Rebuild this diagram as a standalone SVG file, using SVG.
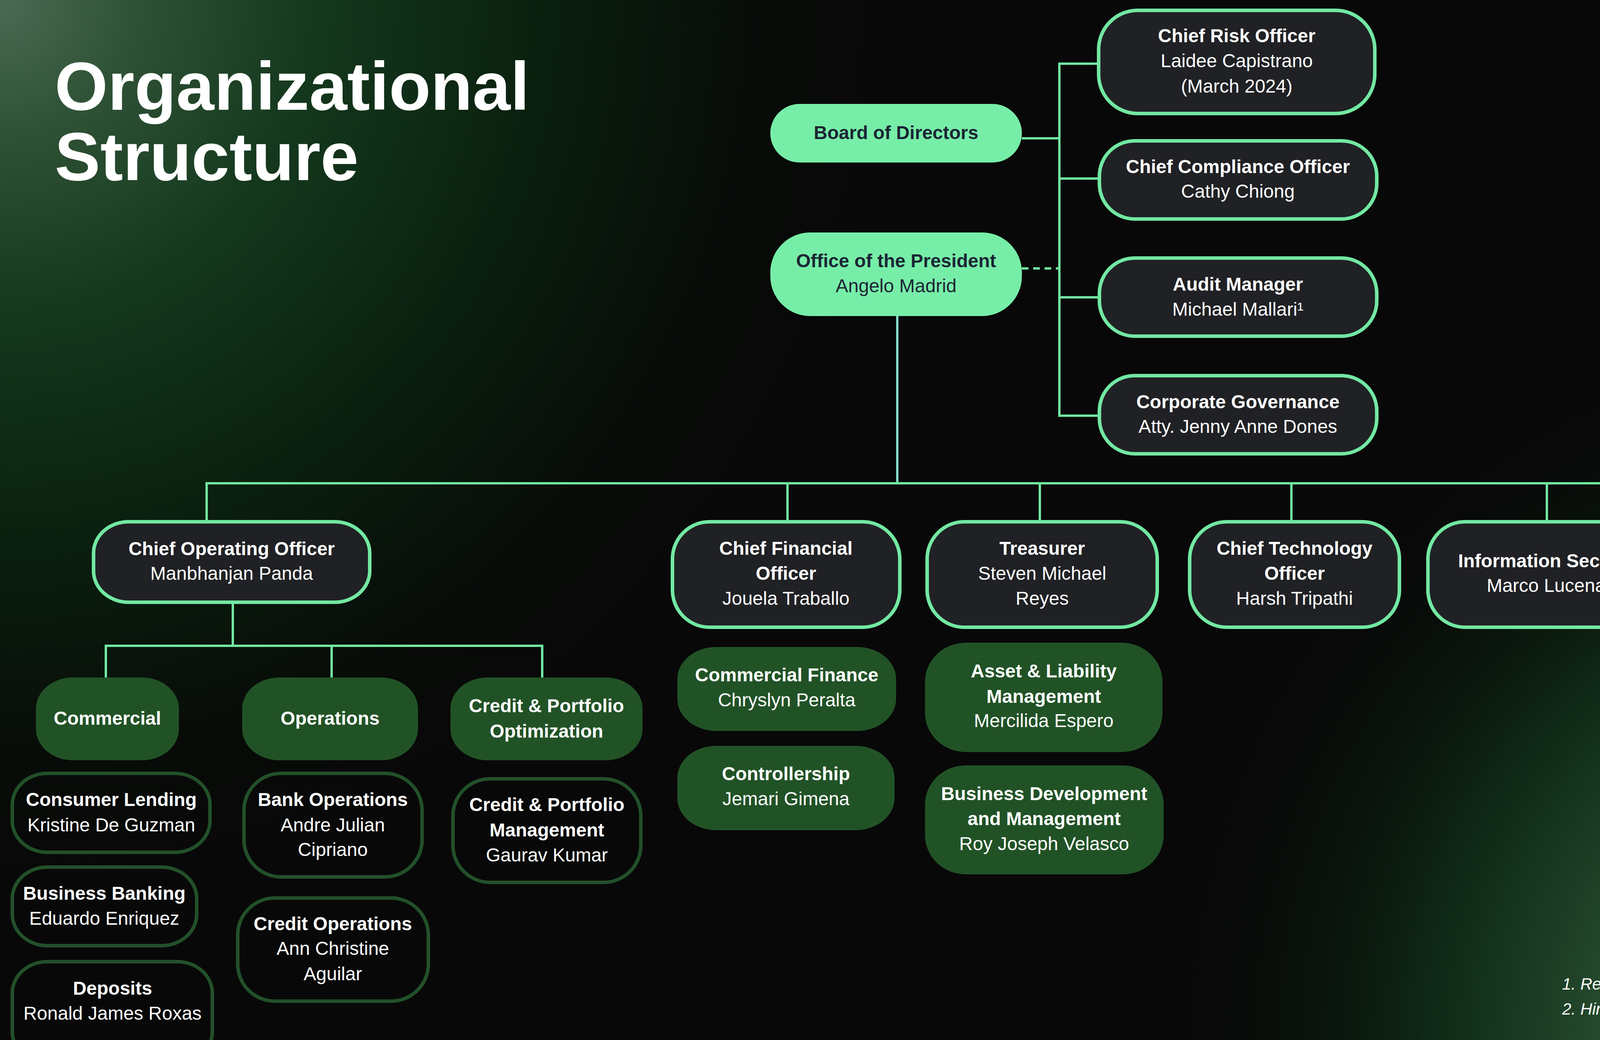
<svg xmlns="http://www.w3.org/2000/svg" width="4840" height="2662" viewBox="0 0 4840 2662">
<defs>
<radialGradient id="gTL" gradientUnits="userSpaceOnUse" cx="0" cy="0" r="2300">
<stop offset="0" stop-color="#4a6b53"/>
<stop offset="0.15" stop-color="#2f5236"/>
<stop offset="0.35" stop-color="#14381d"/>
<stop offset="0.6" stop-color="#0a200f"/>
<stop offset="0.85" stop-color="#080b08"/>
<stop offset="1" stop-color="#080808"/>
</radialGradient>
<radialGradient id="gBR" gradientUnits="userSpaceOnUse" cx="4840" cy="2662" r="1900">
<stop offset="0" stop-color="#5a7b68" stop-opacity="1"/>
<stop offset="0.2" stop-color="#42644c" stop-opacity="1"/>
<stop offset="0.4" stop-color="#24482c" stop-opacity="1"/>
<stop offset="0.6" stop-color="#11301a" stop-opacity="0.9"/>
<stop offset="0.8" stop-color="#0a1a0d" stop-opacity="0.5"/>
<stop offset="1" stop-color="#080808" stop-opacity="0"/>
</radialGradient>
</defs>
<style>
.t{font-family:"Liberation Sans",Arial,sans-serif;font-size:48px;text-anchor:middle;fill:#ffffff}
.b{font-weight:700}
.dk{fill:#1b2535}
.box{fill:#202124;stroke:#72e8a2;stroke-width:9}
.lg{fill:#77eea8}
.gf{fill:#215226}
.go{fill:none;stroke:#22502a;stroke-width:9}
.ln{stroke:#72e8a2;stroke-width:6;fill:none}
.title{font-family:"Liberation Sans",Arial,sans-serif;font-size:175px;font-weight:700;fill:#ffffff}
.fn{font-family:"Liberation Sans",Arial,sans-serif;font-size:42px;font-style:italic;fill:#ffffff}
</style>
<rect x="0" y="0" width="4840" height="2662" fill="url(#gTL)"/>
<rect x="0" y="0" width="4840" height="2662" fill="url(#gBR)"/>

<g id="title">
<text class="title" x="140" y="281">Organizational</text>
<text class="title" x="140" y="461">Structure</text>
</g>

<g id="connectors">
<line class="ln" x1="2616" y1="354" x2="2712" y2="354"/>
<line class="ln" x1="2616" y1="687" x2="2712" y2="687" stroke-dasharray="17 12"/>
<line class="ln" x1="2712" y1="160" x2="2712" y2="1067"/>
<line class="ln" x1="2709" y1="163" x2="2812" y2="163"/>
<line class="ln" x1="2712" y1="457" x2="2814" y2="457"/>
<line class="ln" x1="2712" y1="761" x2="2814" y2="761"/>
<line class="ln" x1="2709" y1="1064" x2="2814" y2="1064"/>
<line class="ln" x1="2297" y1="809" x2="2297" y2="1237" style="stroke:#84d8c6"/>
<line class="ln" x1="526" y1="1237" x2="4599" y2="1237"/>
<line class="ln" x1="529" y1="1237" x2="529" y2="1334"/>
<line class="ln" x1="2016" y1="1237" x2="2016" y2="1334"/>
<line class="ln" x1="2662" y1="1237" x2="2662" y2="1334"/>
<line class="ln" x1="3306" y1="1237" x2="3306" y2="1334"/>
<line class="ln" x1="3960" y1="1237" x2="3960" y2="1334"/>
<line class="ln" x1="4593" y1="1237" x2="4593" y2="1334"/>
<line class="ln" x1="596" y1="1544" x2="596" y2="1653"/>
<line class="ln" x1="268" y1="1653" x2="1391" y2="1653"/>
<line class="ln" x1="271" y1="1653" x2="271" y2="1734"/>
<line class="ln" x1="849" y1="1653" x2="849" y2="1734"/>
<line class="ln" x1="1388" y1="1653" x2="1388" y2="1734"/>
</g>

<g id="board">
<rect class="lg" x="1972" y="266" width="644" height="150" rx="75"/>
<text class="t b dk" x="2294" y="356">Board of Directors</text>
</g>
<g id="president">
<rect class="lg" x="1972" y="595" width="644" height="214" rx="102"/>
<text class="t b dk" x="2294" y="684">Office of the President</text>
<text class="t dk" x="2294" y="748">Angelo Madrid</text>
</g>

<g id="cro">
<rect class="box" x="2812.5" y="26.5" width="707" height="264" rx="100"/>
<text class="t b" x="3166" y="108">Chief Risk Officer</text>
<text class="t" x="3166" y="172">Laidee Capistrano</text>
<text class="t" x="3166" y="237">(March 2024)</text>
</g>
<g id="cco">
<rect class="box" x="2814.5" y="360.5" width="710" height="200" rx="90"/>
<text class="t b" x="3169" y="443">Chief Compliance Officer</text>
<text class="t" x="3169" y="506">Cathy Chiong</text>
</g>
<g id="audit">
<rect class="box" x="2814.5" y="660.5" width="710" height="200" rx="90"/>
<text class="t b" x="3169" y="744">Audit Manager</text>
<text class="t" x="3169" y="808">Michael Mallari¹</text>
</g>
<g id="corpgov">
<rect class="box" x="2814.5" y="961.5" width="710" height="200" rx="90"/>
<text class="t b" x="3169" y="1045">Corporate Governance</text>
<text class="t" x="3169" y="1108">Atty. Jenny Anne Dones</text>
</g>

<g id="coo">
<rect class="box" x="239.5" y="1335.5" width="707" height="206" rx="90" ry="80"/>
<text class="t b" x="593" y="1421">Chief Operating Officer</text>
<text class="t" x="593" y="1484">Manbhanjan Panda</text>
</g>
<g id="cfo">
<rect class="box" x="1721.5" y="1335.5" width="582" height="270" rx="95"/>
<text class="t b" x="2012" y="1420">Chief Financial</text>
<text class="t b" x="2012" y="1484">Officer</text>
<text class="t" x="2012" y="1548">Jouela Traballo</text>
</g>
<g id="treasurer">
<rect class="box" x="2373.5" y="1335.5" width="589" height="270" rx="95"/>
<text class="t b" x="2668" y="1420">Treasurer</text>
<text class="t" x="2668" y="1484">Steven Michael</text>
<text class="t" x="2668" y="1548">Reyes</text>
</g>
<g id="cto">
<rect class="box" x="3045.5" y="1335.5" width="537" height="270" rx="95"/>
<text class="t b" x="3314" y="1420">Chief Technology</text>
<text class="t b" x="3314" y="1484">Officer</text>
<text class="t" x="3314" y="1548">Harsh Tripathi</text>
</g>
<g id="infosec">
<rect class="box" x="3655.5" y="1335.5" width="622" height="270" rx="95"/>
<text class="t b" x="3966" y="1452">Information Security</text>
<text class="t" x="3966" y="1515">Marco Lucena²</text>
</g>
<g id="people">
<rect class="box" x="4350.5" y="1335.5" width="482" height="270" rx="95"/>
<text class="t b" x="4591" y="1420">People Group</text>
<text class="t b" x="4591" y="1484">Business Partner</text>
<text class="t" x="4591" y="1548">Jaime Arcangel</text>
</g>

<g id="commercial">
<rect class="gf" x="92" y="1734" width="366" height="212" rx="95" ry="80"/>
<text class="t b" x="275" y="1855">Commercial</text>
</g>
<g id="operations">
<rect class="gf" x="620" y="1734" width="450" height="212" rx="95" ry="80"/>
<text class="t b" x="845" y="1855">Operations</text>
</g>
<g id="cpo">
<rect class="gf" x="1153" y="1734" width="492" height="212" rx="95" ry="80"/>
<text class="t b" x="1399" y="1823">Credit &amp; Portfolio</text>
<text class="t b" x="1399" y="1888">Optimization</text>
</g>
<g id="consumer">
<rect class="go" x="31.5" y="1979.5" width="506" height="202" rx="90" ry="80"/>
<text class="t b" x="285" y="2063">Consumer Lending</text>
<text class="t" x="285" y="2128">Kristine De Guzman</text>
</g>
<g id="business">
<rect class="go" x="31.5" y="2219.5" width="472" height="201" rx="90" ry="80"/>
<text class="t b" x="267" y="2303">Business Banking</text>
<text class="t" x="267" y="2367">Eduardo Enriquez</text>
</g>
<g id="deposits">
<rect class="go" x="31.5" y="2461.5" width="512" height="260" rx="90" ry="80"/>
<text class="t b" x="288" y="2546">Deposits</text>
<text class="t" x="288" y="2610">Ronald James Roxas</text>
</g>
<g id="bankops">
<rect class="go" x="624.5" y="1979.5" width="456" height="265" rx="95"/>
<text class="t b" x="852" y="2063">Bank Operations</text>
<text class="t" x="852" y="2128">Andre Julian</text>
<text class="t" x="852" y="2191">Cipriano</text>
</g>
<g id="creditops">
<rect class="go" x="608.5" y="2298.5" width="488" height="264" rx="95"/>
<text class="t b" x="852" y="2381">Credit Operations</text>
<text class="t" x="852" y="2444">Ann Christine</text>
<text class="t" x="852" y="2509">Aguilar</text>
</g>
<g id="cpm">
<rect class="go" x="1159.5" y="1993.5" width="481" height="265" rx="95"/>
<text class="t b" x="1400" y="2076">Credit &amp; Portfolio</text>
<text class="t b" x="1400" y="2141">Management</text>
<text class="t" x="1400" y="2205">Gaurav Kumar</text>
</g>

<g id="commfin">
<rect class="gf" x="1734" y="1656" width="560" height="215" rx="100" ry="82"/>
<text class="t b" x="2014" y="1744">Commercial Finance</text>
<text class="t" x="2014" y="1808">Chryslyn Peralta</text>
</g>
<g id="controllership">
<rect class="gf" x="1734" y="1909" width="556" height="216" rx="100" ry="82"/>
<text class="t b" x="2012" y="1997">Controllership</text>
<text class="t" x="2012" y="2061">Jemari Gimena</text>
</g>
<g id="alm">
<rect class="gf" x="2368" y="1645" width="608" height="280" rx="105" ry="100"/>
<text class="t b" x="2672" y="1734">Asset &amp; Liability</text>
<text class="t b" x="2672" y="1799">Management</text>
<text class="t" x="2672" y="1861">Mercilida Espero</text>
</g>
<g id="bizdev">
<rect class="gf" x="2368" y="1959" width="611" height="279" rx="105" ry="100"/>
<text class="t b" x="2673" y="2048">Business Development</text>
<text class="t b" x="2673" y="2112">and Management</text>
<text class="t" x="2673" y="2176">Roy Joseph Velasco</text>
</g>

<g id="footnotes">
<text class="fn" x="3999" y="2533">1. Resigned as of April 26, 2024</text>
<text class="fn" x="3999" y="2597">2. Hired as of March 2024</text>
</g>
</svg>
